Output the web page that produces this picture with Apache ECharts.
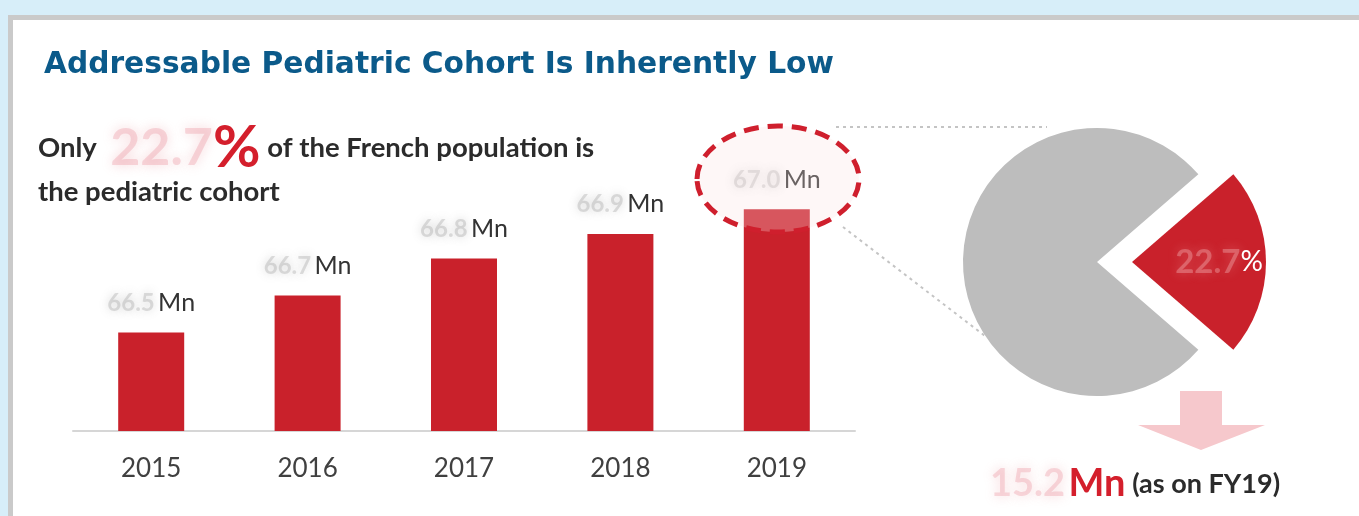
<!DOCTYPE html>
<html><head><meta charset="utf-8">
<script src="https://cdn.jsdelivr.net/npm/echarts@6/dist/echarts.min.js"></script>
<style>html,body{margin:0;padding:0;background:#d7eef9}#c{width:1359px;height:516px}</style>
</head><body><div id="c"></div>
<script>
// ---- data ----
const years = ['2015', '2016', '2017', '2018', '2019'];
const population = [66.5, 66.65, 66.8, 66.9, 67.0];   // Mn
const sliceNames = ['Pediatric cohort', 'Rest of population'];
const sliceShares = [22.7, 77.3];                     // %
const pediatricCohort = 15.2;                         // Mn (as on FY19)
const titleText = 'Addressable Pediatric Cohort Is Inherently Low';

const RED = '#c9212b';
const chart = echarts.init(document.getElementById('c'), null, {renderer: 'canvas'});

function blurRich(color, shadow, size) {
  return {fill: color, fontSize: size, fontWeight: 'bold', fontFamily: 'Lato',
          textShadowColor: shadow, textShadowBlur: 12};
}

const option = {
  backgroundColor: '#d7eef9',
  animation: false,
  grid: {left: 73, right: 504, top: 160, bottom: 85},
  xAxis: {
    type: 'category', data: years,
    axisLine: {lineStyle: {color: '#d6d6d6', width: 2}},
    axisTick: {show: false},
    axisLabel: {color: '#404040', fontSize: 26, fontFamily: 'Lato', margin: 25}
  },
  yAxis: {type: 'value', min: 66.1, max: 67.2, show: false, splitLine: {show: false}},
  series: [
    {
      type: 'bar', data: population, barWidth: 66, z: 2,
      itemStyle: {color: RED},
      label: {
        show: true, position: 'top', distance: 17,
        formatter: p => '{v|' + p.value.toFixed(1) + '} {u|Mn}',
        rich: {
          v: {color: 'rgba(150,150,150,0.3)', fontSize: 24, fontFamily: 'Lato', fontWeight: 'bold',
              textShadowColor: 'rgba(110,110,110,0.95)', textShadowBlur: 10},
          u: {color: '#333', fontSize: 25, fontFamily: 'Lato'}
        }
      }
    },
    {
      type: 'pie', center: [1097, 262], radius: 134, startAngle: sliceShares[0] * 1.8,
      clockwise: true, selectedMode: 'single', selectedOffset: 35, silent: true,
      emphasis: {disabled: true},
      labelLine: {show: false},
      data: [
        {name: sliceNames[0], value: sliceShares[0], selected: true, itemStyle: {color: RED},
         label: {show: true, position: 'inside', padding: [0, 0, 0, 34],
                 formatter: p => '{v|' + p.value.toFixed(1) + '}{p|%}',
                 rich: {
                   v: {color: 'rgba(255,220,220,0.3)', fontSize: 33, fontFamily: 'Lato', fontWeight: 'bold',
                       textShadowColor: 'rgba(255,200,200,0.95)', textShadowBlur: 11},
                   p: {color: '#fff', fontSize: 28, fontFamily: 'Lato'}
                 }}},
        {name: sliceNames[1], value: sliceShares[1], itemStyle: {color: '#bdbdbd'}, label: {show: false}}
      ]
    }
  ],
  graphic: [
    {type: 'rect', shape: {x: 10.5, y: 17.5, width: 1400, height: 600}, z: -10,
     style: {fill: '#fff', stroke: '#cacaca', lineWidth: 5}},
    {type: 'text', x: 44, y: 65, z: 5,
     style: {text: titleText, fill: '#0b5a8a', font: 'bold 29.7px "DejaVu Sans"', textAlign: 'left', textVerticalAlign: 'middle'}},
    {type: 'text', x: 38, y: 148, z: 5,
     style: {text: '{a|Only  }{v|' + sliceShares[0].toFixed(1) + '}{p|%}{a| of the French population is}',
             textAlign: 'left', textVerticalAlign: 'middle',
             rich: {
               a: {fill: '#2b2b2b', fontSize: 27.5, fontFamily: 'Lato', fontWeight: 'bold'},
               v: blurRich('rgba(235,150,160,0.35)', 'rgba(230,130,140,0.95)', 52),
               p: {fill: '#d41f2c', fontSize: 58, fontFamily: 'Lato', fontWeight: 'bold'}
             }}},
    {type: 'text', x: 38, y: 192, z: 5,
     style: {text: 'the pediatric cohort', fill: '#2b2b2b', font: 'bold 27.5px Lato',
             textAlign: 'left', textVerticalAlign: 'middle'}},
    {type: 'line', shape: {x1: 836, y1: 127, x2: 1047, y2: 127}, z: 1,
     style: {stroke: '#c4c4c4', lineWidth: 2, lineDash: [3, 4]}},
    {type: 'line', shape: {x1: 843, y1: 227, x2: 985, y2: 336}, z: 1,
     style: {stroke: '#c4c4c4', lineWidth: 2, lineDash: [3, 4]}},
    {type: 'ellipse', shape: {cx: 778, cy: 179, rx: 81, ry: 53}, z: 10,
     style: {fill: 'rgba(250,225,228,0.28)', stroke: '#cf1f2d', lineWidth: 5, lineDash: [15, 9]}},
    {type: 'polygon', z: 5,
     shape: {points: [[1180, 391], [1222, 391], [1222, 425], [1265, 425], [1201, 450], [1138, 425], [1180, 425]]},
     style: {fill: '#f6c8cc'}},
    {type: 'text', x: 990, y: 484, z: 5,
     style: {text: '{v|' + pediatricCohort.toFixed(1) + '} {m|Mn}  {t|(as on FY19)}',
             textAlign: 'left', textVerticalAlign: 'middle',
             rich: {
               v: blurRich('rgba(235,150,160,0.35)', 'rgba(230,130,140,0.95)', 38),
               m: {fill: '#d41f2c', fontSize: 38, fontFamily: 'Lato', fontWeight: 'bold'},
               t: {fill: '#2b2b2b', fontSize: 27, fontFamily: 'Lato', fontWeight: 'bold'}
             }}}
  ]
};
chart.setOption(option);
</script></body></html>
